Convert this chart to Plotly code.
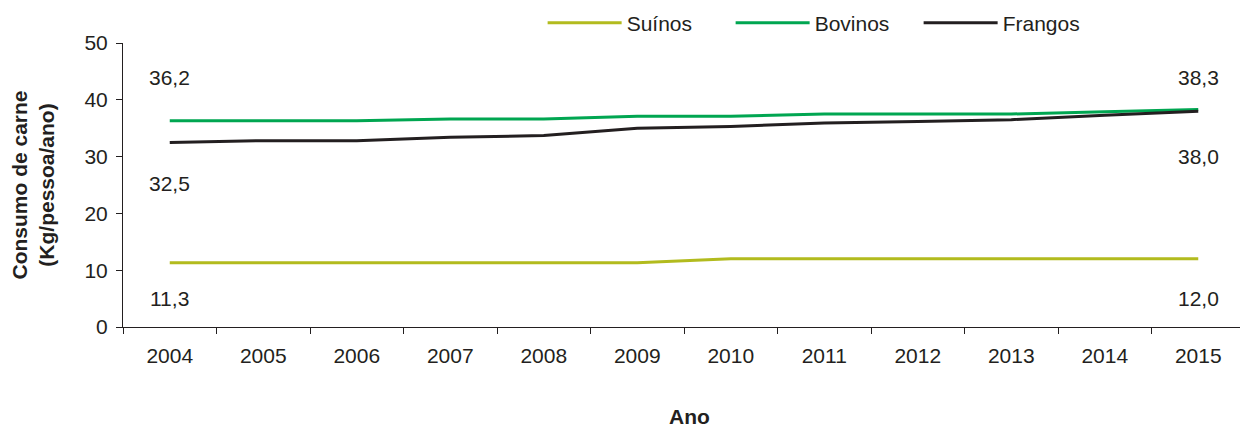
import plotly.graph_objects as go

anos = ["2004", "2005", "2006", "2007", "2008", "2009", "2010", "2011", "2012", "2013", "2014", "2015"]
suinos = [11.3, 11.3, 11.3, 11.3, 11.3, 11.3, 12.0, 12.0, 12.0, 12.0, 12.0, 12.0]
bovinos = [36.3, 36.3, 36.3, 36.6, 36.6, 37.1, 37.1, 37.5, 37.5, 37.5, 37.9, 38.3]
frangos = [32.5, 32.8, 32.8, 33.4, 33.7, 35.0, 35.3, 35.9, 36.2, 36.5, 37.3, 38.0]

# endpoint labels: (category index, y position, text)
rotulos = [
    (0, 44.0, "36,2"),
    (0, 25.2, "32,5"),
    (0, 5.0, "11,3"),
    (11, 44.0, "38,3"),
    (11, 30.0, "38,0"),
    (11, 5.0, "12,0"),
]

TXT = "#231f20"
FONT = "Liberation Sans, Arial, sans-serif"
FS = 21

fig = go.Figure()
fig.add_trace(go.Scatter(x=anos, y=suinos, mode="lines", name="Suínos",
                         line=dict(color="#b2bb1e", width=3)))
fig.add_trace(go.Scatter(x=anos, y=bovinos, mode="lines", name="Bovinos",
                         line=dict(color="#00a651", width=3)))
fig.add_trace(go.Scatter(x=anos, y=frangos, mode="lines", name="Frangos",
                         line=dict(color="#231f20", width=3)))

for xi, yv, txt in rotulos:
    fig.add_annotation(x=xi, y=yv, xref="x", yref="y", text=txt, showarrow=False,
                       font=dict(size=FS, color=TXT, family=FONT),
                       xanchor="center", yanchor="middle")

# x axis title
fig.add_annotation(x=0.5053, y=-0.3146, xref="paper", yref="paper", text="<b>Ano</b>",
                   showarrow=False, xanchor="center", yanchor="middle",
                   font=dict(size=FS, color=TXT, family=FONT))

fig.update_layout(
    width=1248, height=427,
    margin=dict(l=115, r=11, t=35, b=107.5, autoexpand=False),
    plot_bgcolor="white", paper_bgcolor="white",
    font=dict(family=FONT, color=TXT, size=FS),
    showlegend=True,
    legend=dict(orientation="h", x=0.374, xanchor="left", y=1.07, yanchor="middle",
                font=dict(size=FS, color=TXT, family=FONT),
                itemwidth=74, entrywidth=99, bgcolor="rgba(0,0,0,0)"),
    xaxis=dict(
        type="category", range=[-0.5, 11.5], showgrid=False, zeroline=False,
        showline=True, linecolor=TXT, linewidth=1, automargin=False,
        ticks="outside", ticklen=6, tickcolor=TXT, tickson="boundaries",
        tickangle=0,
        tickfont=dict(size=FS, color=TXT, family=FONT),
        ticklabelstandoff=10,
    ),
    yaxis=dict(
        range=[0, 50], dtick=10, showgrid=False, zeroline=False,
        showline=True, linecolor=TXT, linewidth=1, automargin=False,
        ticks="outside", ticklen=6, tickcolor=TXT,
        tickfont=dict(size=FS, color=TXT, family=FONT),
        ticklabelstandoff=4,
        title=dict(text="<b>Consumo de carne<br>(Kg/pessoa/ano)</b>",
                   font=dict(size=FS, color=TXT, family=FONT), standoff=30),
    ),
)

fig.write_html("out.html")
